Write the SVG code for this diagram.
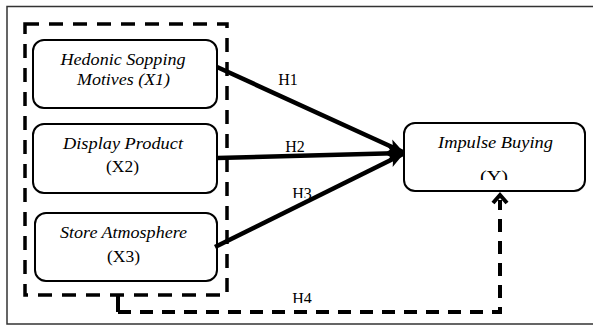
<svg xmlns="http://www.w3.org/2000/svg" width="593" height="326" viewBox="0 0 593 326">
<defs>
<style>
.frame{fill:none;stroke:#333;stroke-width:1.5}
.node{fill:#fff;stroke:#000;stroke-width:2}
.t{font-family:"Liberation Serif","Times New Roman",serif;font-size:16px;fill:#000;text-anchor:middle}
.i{font-style:italic}
.lbl{font-family:"Liberation Serif","Times New Roman",serif;font-size:16px;fill:#000;text-anchor:middle}
.solid{fill:none;stroke:#000;stroke-width:4.5}
.dash{fill:none;stroke:#000;stroke-width:4;stroke-dasharray:13 9}
</style>
<marker id="ah" viewBox="0 0 16 14" refX="15" refY="7" markerWidth="16" markerHeight="14" markerUnits="userSpaceOnUse" orient="auto">
<path d="M0,0 L16,7 L0,14 L4,7 z" fill="#000"/>
</marker>
<clipPath id="cy"><rect x="404" y="160" width="181" height="20"/></clipPath>
<clipPath id="c3"><rect x="280" y="180" width="40" height="18"/></clipPath>
<clipPath id="c4"><rect x="280" y="285" width="40" height="18"/></clipPath>
</defs>
<rect width="593" height="326" fill="#fff"/>
<path class="frame" d="M593,6.5 H7 V324 H593"/>
<rect x="25" y="24" width="202" height="271" fill="none" stroke="#000" stroke-width="3.5" stroke-dasharray="14 10"/>
<g id="x1">
<rect class="node" x="33" y="40" width="184" height="68" rx="11"/>
<text class="t i" x="123" y="65" textLength="125" lengthAdjust="spacingAndGlyphs">Hedonic Sopping</text>
<text class="t i" x="123.5" y="85" textLength="93" lengthAdjust="spacingAndGlyphs">Motives (X1)</text>
</g>
<g id="x2">
<rect class="node" x="33" y="124" width="184" height="69" rx="11"/>
<text class="t i" x="123" y="149" textLength="120" lengthAdjust="spacingAndGlyphs">Display Product</text>
<text class="t" x="122.5" y="172" textLength="33" lengthAdjust="spacingAndGlyphs">(X2)</text>
</g>
<g id="x3">
<rect class="node" x="35" y="213" width="182" height="68" rx="11"/>
<text class="t i" x="123.5" y="238" textLength="127" lengthAdjust="spacingAndGlyphs">Store Atmosphere</text>
<text class="t" x="123.5" y="262" textLength="33" lengthAdjust="spacingAndGlyphs">(X3)</text>
</g>
<g id="y">
<rect class="node" x="404" y="123" width="181" height="68" rx="11"/>
<text class="t i" x="495.5" y="148" textLength="115" lengthAdjust="spacingAndGlyphs">Impulse Buying</text>
<text class="t" x="494" y="182" textLength="28" lengthAdjust="spacingAndGlyphs" clip-path="url(#cy)">(Y)</text>
</g>
<g id="labels">
<text class="lbl" x="288" y="85">H1</text>
<text class="lbl" x="295" y="152">H2</text>
<text class="lbl" x="302" y="199" clip-path="url(#c3)">H3</text>
<text class="lbl" x="302" y="304" clip-path="url(#c4)">H4</text>
</g>
<g id="connectors">
<line class="solid" x1="217" y1="67" x2="403" y2="152" marker-end="url(#ah)"/>
<line class="solid" x1="217" y1="158" x2="403" y2="153" marker-end="url(#ah)"/>
<line class="solid" x1="215" y1="247" x2="403" y2="154" marker-end="url(#ah)"/>
<path d="M118,295 V312" fill="none" stroke="#000" stroke-width="4"/>
<path class="dash" d="M118,312 H500 V200"/>
<path d="M493,203 L500,195 L507,203" fill="none" stroke="#000" stroke-width="4"/>
</g>
</svg>
